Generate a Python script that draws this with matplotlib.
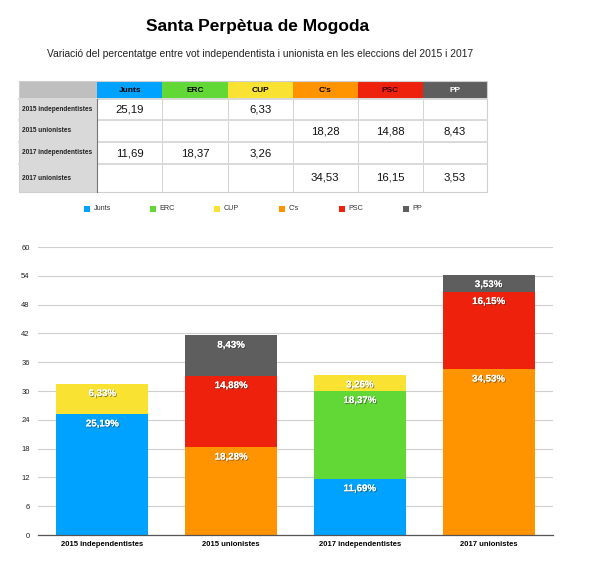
import matplotlib
matplotlib.use("Agg")
import matplotlib.pyplot as plt
import matplotlib.patheffects as pe
from matplotlib.patches import Rectangle
import numpy as np

plt.rcParams['font.family'] = ['Liberation Sans', 'DejaVu Sans']

# data
groups = ['2015 independentistes', '2015 unionistes',
          '2017 independentistes', '2017 unionistes']
parties = ['Junts', 'ERC', 'CUP', "C's", 'PSC', 'PP']
colors = ['#00A2FF', '#61D836', '#FAE232', '#FF9300', '#EE220C', '#5E5E5E']
head_txt = ['black', 'black', 'black', 'black', '#3a0000', 'white']
junts = [25.19, 0, 11.69, 0]
erc = [0, 0, 18.37, 0]
cup = [6.33, 0, 3.26, 0]
cs = [0, 18.28, 0, 34.53]
psc = [0, 14.88, 0, 16.15]
pp = [0, 8.43, 0, 3.53]
series = [junts, erc, cup, cs, psc, pp]
yticks = [0, 6, 12, 18, 24, 30, 36, 42, 48, 54, 60]

W, H = 593, 579
fig = plt.figure(figsize=(W / 100, H / 100), dpi=100)

fig.text(258 / W, 1 - 26 / H, 'Santa Perpètua de Mogoda', ha='center',
         va='center', fontsize=12.5, fontweight='bold')
fig.text(260 / W, 1 - 54 / H,
         'Variació del percentatge entre vot independentista i unionista '
         'en les eleccions del 2015 i 2017',
         ha='center', va='center', fontsize=7.4, color='#222222')

# table + legend drawn in pixel space
tab = fig.add_axes([0, 0, 1, 1])
tab.set_xlim(0, W)
tab.set_ylim(H, 0)
tab.axis('off')

col_x = [19, 97.3, 162.3, 227.7, 292.7, 357.7, 422.7, 487.3]
row_y = [81, 99, 120, 142, 164, 192]

# header row
tab.add_patch(Rectangle((col_x[0], row_y[0]), col_x[1] - col_x[0],
                        row_y[1] - row_y[0], color='#BFBFBF', lw=0))
for j, p in enumerate(parties):
    x0, x1 = col_x[j + 1], col_x[j + 2]
    tab.add_patch(Rectangle((x0, row_y[0]), x1 - x0, row_y[1] - row_y[0],
                            color=colors[j], lw=0))
    tab.text((x0 + x1) / 2, (row_y[0] + row_y[1]) / 2 + 0.5, p,
             ha='center', va='center', fontsize=6, fontweight='bold',
             color=head_txt[j])

for i, g in enumerate(groups):
    y0, y1 = row_y[i + 1], row_y[i + 2]
    tab.add_patch(Rectangle((col_x[0], y0), col_x[1] - col_x[0], y1 - y0,
                            color='#D9D9D9', lw=0))
    tab.text(col_x[0] + 3, (y0 + y1) / 2, g, ha='left', va='center',
             fontsize=4.7, fontweight='bold', color='#222222')
    for j in range(len(parties)):
        x0, x1 = col_x[j + 1], col_x[j + 2]
        tab.add_patch(Rectangle((x0, y0), x1 - x0, y1 - y0,
                                facecolor='white', edgecolor='#D0D0D0', lw=0.6))
        v = series[j][i]
        if v:
            tab.text((x0 + x1) / 2, (y0 + y1) / 2, f'{v:.2f}'.replace('.', ','),
                     ha='center', va='center', fontsize=8.2, color='#111111')
    # row separator
    tab.plot([col_x[0], col_x[-1]], [y0, y0], color='#DADADA', lw=1.4)
tab.plot([col_x[1], col_x[1]], [row_y[1], row_y[-1]], color='#777777', lw=0.8)
tab.add_patch(Rectangle((col_x[0], row_y[0]), col_x[-1] - col_x[0],
                        row_y[-1] - row_y[0], fill=False,
                        edgecolor='#CFCFCF', lw=0.8))

# legend
leg_x = [84, 150, 214, 279, 339, 403]
for j, p in enumerate(parties):
    tab.add_patch(Rectangle((leg_x[j], 206), 5.5, 5.5, color=colors[j], lw=0))
    tab.text(leg_x[j] + 9.5, 209, p, ha='left', va='center', fontsize=5.2,
             color='#333333')

# bar chart
ax = fig.add_axes([38 / W, (H - 535) / H, 515 / W, 288 / H])
x = np.arange(len(groups))
bottom = np.zeros(len(groups))
for j, s in enumerate(series):
    vals = np.array(s)
    ax.bar(x, vals, 0.715, bottom=bottom, color=colors[j], zorder=2)
    for i, v in enumerate(vals):
        if v:
            ax.text(x[i], bottom[i] + v - 0.9, f'{v:.2f}%'.replace('.', ','),
                    ha='center', va='top', fontsize=7, fontweight='bold',
                    color='white', path_effects=[
                        pe.withSimplePatchShadow(offset=(0.7, -0.7),
                                                 shadow_rgbFace='#222222',
                                                 alpha=0.5),
                        pe.Normal()])
    bottom += vals

ax.set_xlim(-0.5, 3.5)
ax.set_ylim(0, 60)
ax.set_yticks(yticks)
ax.set_yticklabels([str(t) for t in yticks])
ax.set_xticks(x)
ax.set_xticklabels(groups, fontsize=5.5, fontweight='bold')
ax.tick_params(axis='y', length=0, labelsize=5.5, pad=6, labelcolor='#222222')
ax.tick_params(axis='x', length=0, pad=4)
ax.grid(axis='y', color='#CFCFCF', lw=0.8, zorder=0)
for sp in ['top', 'right', 'left']:
    ax.spines[sp].set_visible(False)
ax.spines['bottom'].set_color('#555555')
ax.spines['bottom'].set_linewidth(0.9)
ax.spines['bottom'].set_zorder(3)

fig.savefig('out.png', dpi=100)
